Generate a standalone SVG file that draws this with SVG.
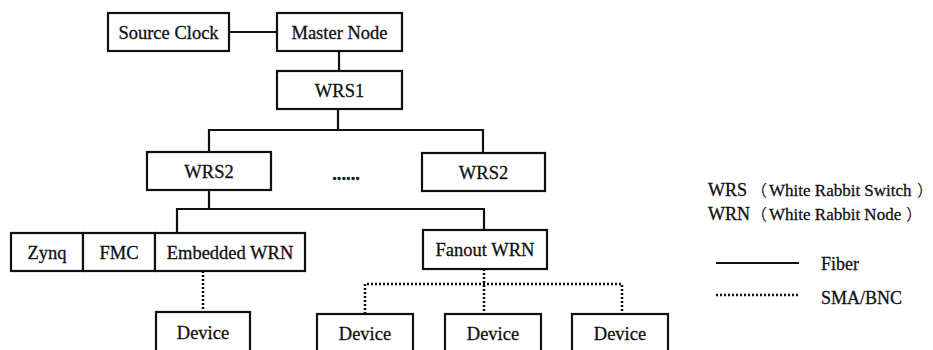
<svg xmlns="http://www.w3.org/2000/svg" width="933" height="350" viewBox="0 0 933 350">
<style>
.box{fill:#fff;stroke:#111;stroke-width:2.2}
.fiber{stroke:#111;stroke-width:2.2;fill:none}
.sma{stroke:#111;stroke-width:2.6;fill:none;stroke-dasharray:2 2}
.lbl{font-family:'Liberation Serif',serif;font-size:18.5px;fill:#111;stroke:#111;stroke-width:0.3;text-anchor:middle}
.leg{font-family:'Liberation Serif','Noto Sans CJK SC',serif;font-size:18px;fill:#111;stroke:#111;stroke-width:0.3}
.cjk{font-family:'Noto Sans CJK SC',sans-serif;font-size:16px;stroke-width:0}
.sm{font-size:17px}
</style>
<rect width="933" height="350" fill="#fff"/>
<g id="connectors">
<line class="fiber" x1="229" y1="32" x2="277" y2="32"/>
<line class="fiber" x1="339" y1="51" x2="339" y2="71"/>
<polyline class="fiber" points="338,109 338,130"/>
<polyline class="fiber" points="209,152 209,130 483,130 483,153"/>
<line class="fiber" x1="209" y1="190" x2="209" y2="209"/>
<polyline class="fiber" points="177,233 177,209 484,209 484,230"/>
<line class="sma" x1="203" y1="271" x2="203" y2="312"/>
<line class="sma" x1="484" y1="269" x2="484" y2="314"/>
<polyline class="sma" points="365,314 365,284 622,284 622,314"/>
</g>
<g id="source-clock"><rect class="box" x="108" y="13" width="121" height="38"/><text class="lbl" x="168.5" y="39">Source Clock</text></g>
<g id="master-node"><rect class="box" x="277" y="13" width="125" height="38"/><text class="lbl" x="339.5" y="39">Master Node</text></g>
<g id="wrs1"><rect class="box" x="277" y="71" width="125" height="38"/><text class="lbl" x="339.5" y="97">WRS1</text></g>
<g id="wrs2-left"><rect class="box" x="147" y="152" width="124" height="38"/><text class="lbl" x="209" y="178">WRS2</text></g>
<g id="ellipsis"><text class="lbl" x="346" y="180" font-weight="bold">......</text></g>
<g id="wrs2-right"><rect class="box" x="422" y="153" width="123" height="38"/><text class="lbl" x="483.5" y="179">WRS2</text></g>
<g id="zynq"><rect class="box" x="11" y="233" width="72" height="38"/><text class="lbl" x="47" y="259">Zynq</text></g>
<g id="fmc"><rect class="box" x="83" y="233" width="72" height="38"/><text class="lbl" x="119" y="259">FMC</text></g>
<g id="embedded-wrn"><rect class="box" x="155" y="233" width="150" height="38"/><text class="lbl" x="230" y="259">Embedded WRN</text></g>
<g id="fanout-wrn"><rect class="box" x="423" y="230" width="124" height="39"/><text class="lbl" x="485" y="256">Fanout WRN</text></g>
<g id="device-1"><rect class="box" x="156" y="312" width="94" height="50"/><text class="lbl" x="203" y="339">Device</text></g>
<g id="device-2"><rect class="box" x="317" y="314" width="96" height="50"/><text class="lbl" x="365" y="340">Device</text></g>
<g id="device-3"><rect class="box" x="445" y="314" width="96" height="50"/><text class="lbl" x="493" y="340">Device</text></g>
<g id="device-4"><rect class="box" x="572" y="314" width="96" height="50"/><text class="lbl" x="620" y="340">Device</text></g>
<g id="legend">
<text class="leg" x="708" y="196">WRS<tspan class="cjk" x="751">（</tspan><tspan class="sm" x="769">White Rabbit Switch</tspan><tspan class="cjk" x="917">）</tspan></text>
<text class="leg" x="708" y="220">WRN<tspan class="cjk" x="751">（</tspan><tspan class="sm" x="769">White Rabbit Node</tspan><tspan class="cjk" x="906">）</tspan></text>
<line class="fiber" x1="716" y1="263" x2="799" y2="263"/>
<text class="leg" x="821" y="270">Fiber</text>
<line class="sma" x1="716" y1="295" x2="800" y2="295"/>
<text class="leg" x="821" y="304">SMA/BNC</text>
</g>
</svg>
